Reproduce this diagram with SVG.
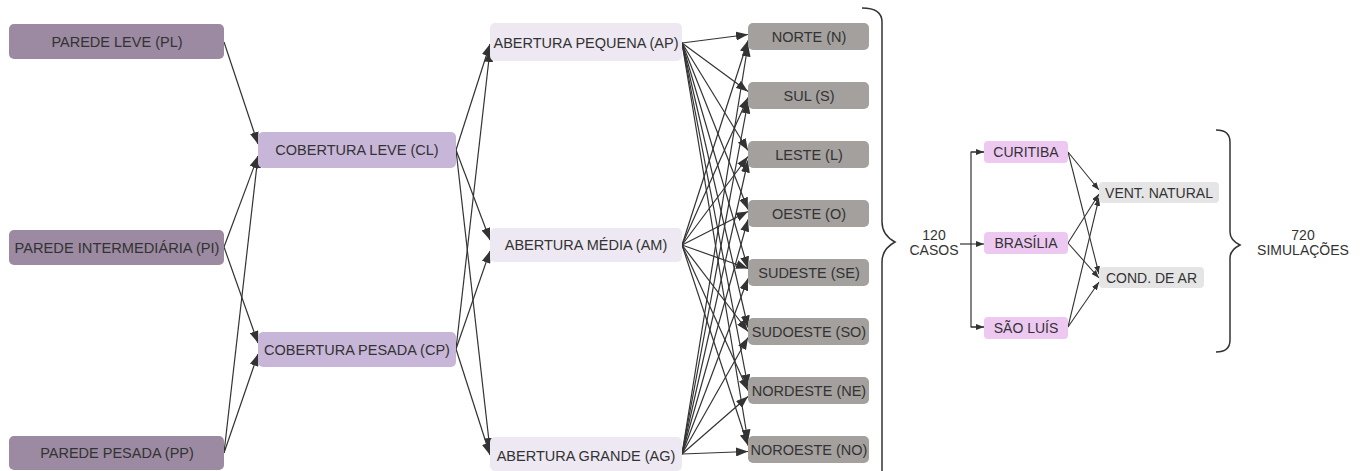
<svg xmlns="http://www.w3.org/2000/svg" width="1370" height="471" viewBox="0 0 1370 471">
<defs>
<style>
text{font-family:"Liberation Sans",Arial,sans-serif;fill:#333;text-anchor:middle}
.t{font-size:14.5px}
.d{font-size:14.5px}
.s{font-size:14px}
.wall{fill:#9b8aa1}
.cov{fill:#c8b6d8}
.op{fill:#ede8f2}
.dir{fill:#a3a09e}
.city{fill:#edc9f1}
.sys{fill:#e6e5e5}
.e{stroke:#333;stroke-width:1.2;fill:none;marker-end:url(#a)}
.e2{stroke:#333;stroke-width:1.1;fill:none;marker-end:url(#b)}
.br{stroke:#333;stroke-width:1.5;fill:none}
</style>
<marker id="a" markerUnits="userSpaceOnUse" markerWidth="12" markerHeight="9" refX="12" refY="4.5" orient="auto"><path d="M0,0 L12,4.5 L0,9 z" fill="#333"/></marker>
<marker id="b" markerUnits="userSpaceOnUse" markerWidth="8" markerHeight="6" refX="8" refY="3" orient="auto"><path d="M0,0 L8,3 L0,6 z" fill="#333"/></marker>
</defs>
<rect width="1370" height="471" fill="#fff"/>

<g id="connectors">
<line class="e" x1="224" y1="42" x2="258" y2="144"/>
<line class="e" x1="224" y1="247" x2="258" y2="156"/>
<line class="e" x1="224" y1="453" x2="258" y2="156"/>
<line class="e" x1="224" y1="247" x2="258" y2="343"/>
<line class="e" x1="224" y1="453" x2="258" y2="354"/>

<line class="e" x1="456" y1="150" x2="490" y2="44"/>
<line class="e" x1="456" y1="150" x2="490" y2="240"/>
<line class="e" x1="456" y1="150" x2="490" y2="450"/>
<line class="e" x1="456" y1="349" x2="490" y2="50"/>
<line class="e" x1="456" y1="349" x2="490" y2="251"/>
<line class="e" x1="456" y1="349" x2="490" y2="455"/>

<line class="e" x1="682" y1="43" x2="748" y2="34.5"/>
<line class="e" x1="682" y1="43" x2="748" y2="91.5"/>
<line class="e" x1="682" y1="43" x2="748" y2="150.5"/>
<line class="e" x1="682" y1="43" x2="748" y2="209.5"/>
<line class="e" x1="682" y1="43" x2="748" y2="268.5"/>
<line class="e" x1="682" y1="43" x2="748" y2="327.5"/>
<line class="e" x1="682" y1="43" x2="748" y2="386.5"/>
<line class="e" x1="682" y1="43" x2="748" y2="441.5"/>

<line class="e" x1="682" y1="245" x2="748" y2="40.5"/>
<line class="e" x1="682" y1="245" x2="748" y2="97.5"/>
<line class="e" x1="682" y1="245" x2="748" y2="156.5"/>
<line class="e" x1="682" y1="245" x2="748" y2="211.5"/>
<line class="e" x1="682" y1="245" x2="748" y2="268.5"/>
<line class="e" x1="682" y1="245" x2="748" y2="331.5"/>
<line class="e" x1="682" y1="245" x2="748" y2="390.5"/>
<line class="e" x1="682" y1="245" x2="748" y2="445.5"/>

<line class="e" x1="682" y1="454" x2="748" y2="44.5"/>
<line class="e" x1="682" y1="454" x2="748" y2="101.5"/>
<line class="e" x1="682" y1="454" x2="748" y2="160.5"/>
<line class="e" x1="682" y1="454" x2="748" y2="219.5"/>
<line class="e" x1="682" y1="454" x2="748" y2="278.5"/>
<line class="e" x1="682" y1="454" x2="748" y2="337.5"/>
<line class="e" x1="682" y1="454" x2="748" y2="396.5"/>
<line class="e" x1="682" y1="454" x2="748" y2="451.5"/>

<path class="br" d="M862,8 Q882,8 882,22 V222 Q882,235 895,242 Q882,249 882,262 V480"/>
<path class="br" d="M1216,130 Q1230,130 1230,142 V232 Q1230,240 1240,245 Q1230,250 1230,258 V340 Q1230,352 1216,352"/>

<line x1="960" y1="244" x2="971" y2="244" stroke="#333" stroke-width="1.2"/>
<path d="M984,152 H971 V327 H984" stroke="#333" stroke-width="1.2" fill="none"/>
<line class="e2" x1="971" y1="152" x2="984" y2="152"/>
<line class="e2" x1="971" y1="244" x2="984" y2="244"/>
<line class="e2" x1="971" y1="327" x2="984" y2="327"/>

<line class="e2" x1="1068" y1="152" x2="1099" y2="190"/>
<line class="e2" x1="1068" y1="152" x2="1099" y2="274"/>
<line class="e2" x1="1068" y1="243" x2="1099" y2="194"/>
<line class="e2" x1="1068" y1="243" x2="1099" y2="278"/>
<line class="e2" x1="1068" y1="327" x2="1099" y2="198"/>
<line class="e2" x1="1068" y1="327" x2="1099" y2="282"/>
</g>

<g id="pl"><rect class="wall" x="9" y="24" width="215" height="35" rx="5"/><text class="t" x="117" y="46.5">PAREDE LEVE (PL)</text></g>
<g id="pi"><rect class="wall" x="9" y="230" width="215" height="35" rx="5"/><text class="t" x="117" y="252.5" textLength="205" lengthAdjust="spacingAndGlyphs">PAREDE INTERMEDIÁRIA (PI)</text></g>
<g id="pp"><rect class="wall" x="9" y="436" width="215" height="34" rx="5"/><text class="t" x="117" y="458">PAREDE PESADA (PP)</text></g>

<g id="cl"><rect class="cov" x="258" y="132" width="198" height="36" rx="5"/><text class="t" x="357" y="155">COBERTURA LEVE (CL)</text></g>
<g id="cp"><rect class="cov" x="258" y="332" width="198" height="35" rx="5"/><text class="t" x="357" y="354.5">COBERTURA PESADA (CP)</text></g>

<g id="ap"><rect class="op" x="490" y="23" width="192" height="38" rx="5"/><text class="t" x="586" y="48">ABERTURA PEQUENA (AP)</text></g>
<g id="am"><rect class="op" x="490" y="228" width="192" height="34" rx="5"/><text class="t" x="586" y="250">ABERTURA MÉDIA (AM)</text></g>
<g id="ag"><rect class="op" x="490" y="437" width="192" height="34" rx="5"/><text class="t" x="586" y="461">ABERTURA GRANDE (AG)</text></g>

<g id="n"><rect class="dir" x="748" y="23" width="121" height="27" rx="5"/><text class="d" x="809" y="41.5">NORTE (N)</text></g>
<g id="s"><rect class="dir" x="748" y="82" width="121" height="27" rx="5"/><text class="d" x="809" y="100.5">SUL (S)</text></g>
<g id="l"><rect class="dir" x="748" y="141" width="121" height="27" rx="5"/><text class="d" x="809" y="159.5">LESTE (L)</text></g>
<g id="o"><rect class="dir" x="748" y="200" width="121" height="27" rx="5"/><text class="d" x="809" y="218.5">OESTE (O)</text></g>
<g id="se"><rect class="dir" x="748" y="259" width="121" height="27" rx="5"/><text class="d" x="809" y="277.5">SUDESTE (SE)</text></g>
<g id="so"><rect class="dir" x="748" y="318" width="121" height="27" rx="5"/><text class="d" x="809" y="336.5">SUDOESTE (SO)</text></g>
<g id="ne"><rect class="dir" x="748" y="377" width="121" height="27" rx="5"/><text class="d" x="809" y="395.5">NORDESTE (NE)</text></g>
<g id="no"><rect class="dir" x="748" y="436" width="121" height="27" rx="5"/><text class="d" x="809" y="454.5">NOROESTE (NO)</text></g>

<g id="casos"><text class="s" x="934" y="240">120</text><text class="s" x="934" y="255">CASOS</text></g>

<g id="curitiba"><rect class="city" x="984" y="141" width="84" height="22" rx="4"/><text class="s" x="1026" y="157">CURITIBA</text></g>
<g id="brasilia"><rect class="city" x="984" y="232" width="84" height="22" rx="4"/><text class="s" x="1026" y="248">BRASÍLIA</text></g>
<g id="saoluis"><rect class="city" x="984" y="317" width="84" height="22" rx="4"/><text class="s" x="1026" y="333">SÃO LUÍS</text></g>

<g id="vent"><rect class="sys" x="1099" y="182" width="120" height="21" rx="4"/><text class="s" x="1159" y="197.5">VENT. NATURAL</text></g>
<g id="cond"><rect class="sys" x="1099" y="267" width="105" height="21" rx="4"/><text class="s" x="1151.5" y="282.5">COND. DE AR</text></g>

<g id="sim"><text class="s" x="1303" y="240">720</text><text class="s" x="1303" y="255">SIMULAÇÕES</text></g>
</svg>
